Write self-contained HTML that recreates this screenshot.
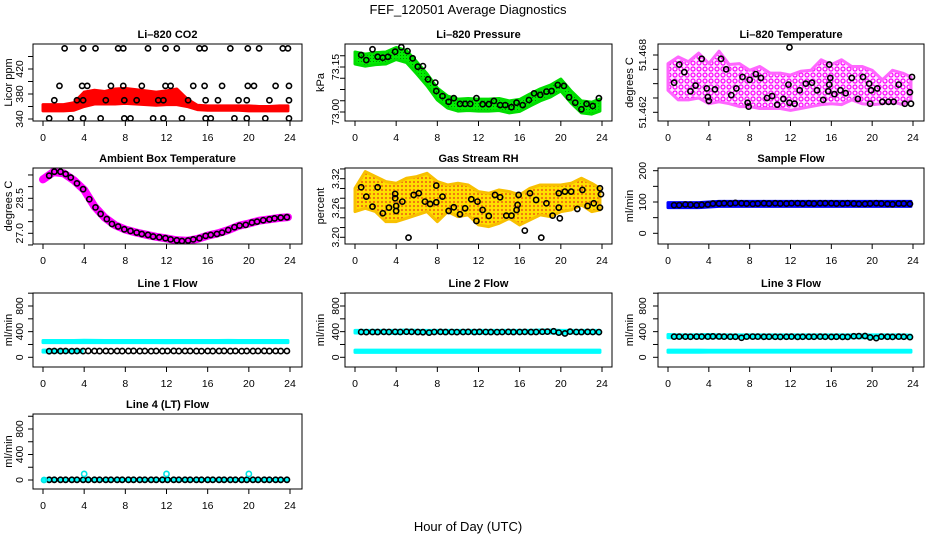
<!DOCTYPE html>
<html><head><meta charset="utf-8">
<style>
html,body{margin:0;padding:0;background:#fff;}
svg{display:block;font-family:"Liberation Sans",sans-serif;}
</style></head>
<body>
<svg id="chart" width="936" height="540" viewBox="0 0 936 540" xmlns="http://www.w3.org/2000/svg">
<defs>
<pattern id="magDots" width="6" height="6" patternUnits="userSpaceOnUse"><rect width="6" height="6" fill="#fde8fd"/><circle cx="3" cy="3" r="2" fill="none" stroke="#ff00ff" stroke-width="1.2"/></pattern>
<pattern id="rhDots" width="4" height="4" patternUnits="userSpaceOnUse"><rect width="4" height="4" fill="#ffe000"/><circle cx="2" cy="2" r="1.1" fill="#f07010"/></pattern>
<pattern id="grDots" width="3" height="3" patternUnits="userSpaceOnUse"><rect width="3" height="3" fill="#00ee00"/><rect x="1" y="1" width="1" height="1" fill="#008800"/></pattern>
</defs>
<text x="468" y="14" text-anchor="middle" font-size="13">FEF_120501  Average Diagnostics</text>
<text x="468" y="531" text-anchor="middle" font-size="13">Hour of Day (UTC)</text>
</svg>
<script>
// ---------- shared data ----------
const hourGrid = [0,1,2,3,4,5,6,7,8,9,10,11,12,13,14,15,16,17,18,19,20,21,22,23,23.8];
const xTickVals = [0,4,8,12,16,20,24];
const xTickLabels = ["0","4","8","12","16","20","24"];
const flowHours = [0.6,1.1,1.7,2.2,2.8,3.3,3.9,4.4,5.0,5.5,6.1,6.6,7.2,7.7,8.3,8.8,9.4,9.9,10.5,11.0,11.6,12.1,12.7,13.2,13.8,14.3,14.9,15.4,16.0,16.5,17.1,17.6,18.2,18.7,19.3,19.8,20.4,20.9,21.5,22.0,22.6,23.1,23.7];

// CO2
const co2BandLo = [353,353,353,354,360,364,364,364,365,364,363,362,363,363,360,355,354,354,354,354,353,353,353,353,353];
const co2BandHi = [363,363,363,366,383,386,384,388,389,387,385,383,385,388,372,362,361,361,361,361,361,360,360,361,361];
const co2Hours = [2.1,3.9,5.1,7.3,7.8,10.2,11.9,13.0,15.2,15.7,18.2,19.9,21.0,23.3,23.8,
  1.6,3.8,4.3,6.6,7.8,9.6,11.9,12.4,14.6,15.7,17.4,19.9,20.5,22.6,23.9,
  1.1,3.3,3.9,6.1,7.9,9.1,11.2,11.7,14.1,15.8,17.0,19.0,19.8,22.0,23.9,
  0.6,2.7,3.9,5.6,7.9,8.5,10.7,11.7,13.5,15.8,16.3,18.6,19.8,21.6,23.9];
const co2Vals = [453,453,453,453,453,453,453,453,453,453,453,453,453,453,453,
  393,393,393,393,393,393,393,393,393,393,393,393,393,393,393,
  370,370,370,370,370,370,370,370,370,370,370,370,370,370,370,
  341,341,341,341,341,341,341,341,341,341,341,341,341,341,341];
const co2TickVals = [340,360,380,400,420,440];
const co2TickLabels = ["340","","380","","420",""];

// Pressure
const presBandLo = [73.160,73.153,73.158,73.160,73.175,73.165,73.127,73.087,73.040,73.013,73.003,73.005,73.003,73.003,73.005,72.997,73.002,73.020,73.037,73.050,73.070,73.030,72.997,72.993,73.003];
const presBandHi = [73.200,73.193,73.198,73.200,73.215,73.205,73.167,73.127,73.080,73.053,73.043,73.045,73.043,73.043,73.045,73.037,73.042,73.060,73.077,73.090,73.110,73.070,73.037,73.033,73.043];
const presHours = [0.6,1.1,1.7,2.2,2.7,3.2,3.9,4.5,5.1,5.6,6.1,6.6,7.1,7.8,7.9,8.5,9.1,9.6,10.2,10.7,11.2,11.8,12.4,13.0,13.5,14.1,14.6,15.2,15.7,16.3,16.9,17.4,18.0,18.6,19.1,19.7,20.3,20.8,21.4,22.0,22.5,23.1,23.7];
const presVals = [73.19,73.173,73.209,73.184,73.181,73.184,73.201,73.216,73.203,73.179,73.151,73.153,73.109,73.098,73.07,73.053,73.034,73.046,73.027,73.027,73.027,73.046,73.026,73.026,73.037,73.023,73.023,73.016,73.031,73.023,73.04,73.062,73.057,73.068,73.07,73.09,73.087,73.049,73.031,73.009,73.027,73.02,73.046];
const presTickVals = [73.0,73.0375,73.075,73.1125,73.15,73.1875];
const presTickLabels = ["73.00","","","","73.15",""];

// Li-820 temperature
const tempBandLo = [51.4643,51.4633,51.4633,51.4635,51.4629,51.4631,51.4629,51.4626,51.4626,51.4624,51.4624,51.4624,51.4622,51.4624,51.4626,51.4628,51.4629,51.4628,51.4633,51.4629,51.4628,51.4629,51.4631,51.4628,51.4633];
const tempBandHi = [51.4671,51.4678,51.4673,51.4682,51.4671,51.4684,51.4670,51.4671,51.4664,51.4668,51.4661,51.4661,51.4659,51.4663,51.4664,51.4675,51.4670,51.4675,51.4668,51.4668,51.4664,51.4654,51.4664,51.4661,51.4657];
const tempHours = [0.6,1.1,1.6,2.2,2.7,3.3,3.8,3.9,4.0,4.6,5.2,5.7,6.2,6.7,7.3,7.8,7.9,8.0,8.6,9.1,9.7,10.2,10.7,11.3,11.8,11.9,11.9,12.4,12.9,13.5,14.1,14.6,15.2,15.7,15.8,15.9,15.8,16.3,16.9,17.4,18.0,18.6,19.1,19.7,19.8,19.9,20.5,21.0,21.6,22.1,22.6,23.2,23.7,23.8,23.9];
const tempVals = [51.4651,51.4670,51.4662,51.4642,51.4648,51.4676,51.4645,51.4636,51.4632,51.4644,51.4676,51.4665,51.4638,51.4645,51.4657,51.4630,51.4626,51.4654,51.4660,51.4656,51.4635,51.4637,51.4628,51.4634,51.4649,51.4630,51.4688,51.4629,51.4643,51.4650,51.4651,51.4643,51.4633,51.4642,51.4649,51.4656,51.4670,51.4639,51.4643,51.4640,51.4656,51.4634,51.4657,51.4650,51.4629,51.4643,51.4645,51.4631,51.4631,51.4631,51.4649,51.4629,51.4641,51.4629,51.4657];
const tempTickVals = [51.462,51.4635,51.465,51.4665,51.468];
const tempTickLabels = ["51.462","","","","51.468"];

// Ambient box temperature
const ambBand = [29.31,29.62,29.57,29.27,28.86,28.15,27.67,27.35,27.16,27.04,26.94,26.85,26.78,26.70,26.68,26.76,26.90,27.00,27.14,27.32,27.42,27.54,27.60,27.66,27.69];
const ambHours = [0.6,1.1,1.7,2.2,2.7,3.3,3.9,4.5,5.1,5.6,6.2,6.7,7.3,7.9,8.5,9.1,9.6,10.2,10.7,11.3,11.9,12.4,13.0,13.5,14.1,14.6,15.2,15.8,16.3,16.9,17.4,18.0,18.6,19.1,19.7,20.3,20.8,21.4,22.0,22.5,23.1,23.7];
const ambVals = [29.47,29.64,29.64,29.54,29.39,29.14,28.89,28.46,28.11,27.83,27.61,27.40,27.29,27.17,27.10,27.03,26.97,26.93,26.86,26.83,26.79,26.74,26.70,26.67,26.69,26.74,26.79,26.89,26.93,26.97,27.03,27.14,27.26,27.33,27.36,27.46,27.50,27.56,27.60,27.64,27.67,27.69];
const ambTickVals = [26.5,27.0,27.5,28.0,28.5,29.0,29.5];
const ambTickLabels = ["","27.0","","","28.5","",""];

// Gas stream RH
const rhBandHi = [3.3004,3.3346,3.3243,3.3141,3.3106,3.3209,3.3243,3.3311,3.3141,3.3072,3.3106,3.3072,3.2936,3.2902,3.2970,3.2936,3.2867,3.3004,3.3072,3.3072,3.3072,3.3106,3.3209,3.3106,3.3004];
const rhBandLo = [3.2526,3.2594,3.2526,3.2321,3.2321,3.2389,3.2458,3.2526,3.2321,3.2526,3.2423,3.2458,3.2253,3.2219,3.2287,3.2389,3.2253,3.2355,3.2458,3.2423,3.2526,3.2560,3.2663,3.2526,3.2560];
const rhHours = [0.6,1.1,1.7,2.2,2.7,3.3,3.9,3.9,4.0,4.0,4.6,5.2,5.7,6.2,6.8,7.3,7.9,7.9,8.5,9.1,9.6,10.2,10.7,11.3,11.8,11.9,12.4,13.0,13.6,14.1,14.7,15.2,15.7,15.8,15.9,16.5,17.0,17.6,18.1,18.6,19.2,19.8,19.8,19.9,20.4,21.0,21.6,22.1,22.6,23.2,23.8,23.8,23.9];
const rhVals = [3.3025,3.2833,3.2628,3.3025,3.2492,3.2608,3.2888,3.2799,3.2642,3.2540,3.2731,3.1993,3.2867,3.2902,3.2731,3.2683,3.3059,3.2717,3.2833,3.2540,3.2615,3.2471,3.2594,3.2779,3.2335,3.2731,3.2560,3.2437,3.2867,3.2820,3.2444,3.2444,3.2560,3.2663,3.2867,3.2137,3.2902,3.2765,3.1993,3.2697,3.2444,3.2902,3.2608,3.2389,3.2936,3.2936,3.2581,3.2970,3.2642,3.2697,3.3004,3.2608,3.2881];
const rhTickVals = [3.20,3.22,3.24,3.26,3.28,3.30,3.32,3.34];
const rhTickLabels = ["3.20","","","3.26","","","3.32",""];

// Sample flow
const sampleBandLo = [82,82,82,82,84,86,86,86,86,86,86,86,86,86,86,86,86,86,86,86,86,86,86,86,86];
const sampleBandHi = [98,98,98,98,100,102,102,102,102,102,102,102,102,102,102,102,102,102,102,102,102,102,102,102,102];
const sampleVals = [90,90,92,91,90,91,92,95,95,96,95,97,96,95,94,95,96,95,96,95,95,96,96,95,96,95,96,96,96,95,95,96,95,94,94,95,96,95,94,93,95,95,94];
const sampleTickVals = [0,50,100,150,200];
const sampleTickLabels = ["0","","100","","200"];

// Line flows
const flowTickVals = [0,200,400,600,800,1000];
const flowTickLabels = ["0","","400","","800",""];
const line1HiLo = [228,228,228,228,228,228,228,228,228,228,228,228,226,228,228,228,228,228,228,228,228,228,228,228,228];
const line1HiHi = [262,262,262,262,266,264,262,262,262,262,262,262,262,262,262,262,262,262,264,262,262,262,262,262,262];
const line1LowHours = [0,1,2,3,3.8];
const line1LowLo = [80,80,80,80,80];
const line1LowHi = [112,112,112,112,112];
const line1Vals = [95,98,97,98,96,98,97,99,98,97,98,96,98,97,98,99,97,98,96,98,97,98,99,97,98,98,97,96,98,97,98,99,97,98,96,98,97,98,99,97,98,97,98];
const line2HiLo = [378,378,378,378,370,378,378,378,378,378,378,378,372,378,378,378,378,378,378,378,372,378,378,378,378];
const line2HiHi = [420,420,420,420,420,425,420,420,420,420,420,420,420,420,420,420,420,420,425,425,420,420,420,420,420];
const line2LoLo = [76,76,76,76,76,76,76,76,76,76,76,76,76,76,76,76,76,76,76,76,76,76,76,76,76];
const line2LoHi = [112,112,112,112,112,112,112,112,112,112,112,112,112,112,112,112,112,112,112,112,112,112,112,112,112];
const line2Vals = [395,393,395,394,396,395,397,395,398,396,394,392,385,395,396,394,395,393,395,396,394,396,395,394,393,395,396,394,395,396,394,395,398,400,405,385,372,400,395,394,396,395,393];
const line3HiLo = [305,305,305,305,305,305,305,305,305,305,305,305,300,305,305,305,305,305,305,305,300,305,305,305,305];
const line3HiHi = [355,350,350,352,355,350,350,350,350,350,350,350,350,350,350,350,350,350,350,350,350,350,350,350,345];
const line3LoLo = [78,78,78,78,80,80,80,80,80,80,80,80,80,80,80,80,80,80,80,80,80,80,80,80,80];
const line3LoHi = [112,112,112,112,110,110,110,110,110,110,110,110,110,110,110,110,110,110,110,110,110,110,110,110,110];
const line3Vals = [322,322,322,321,323,322,322,325,324,322,321,320,305,322,323,322,320,321,320,319,320,322,318,320,320,321,322,320,318,320,319,318,328,330,332,310,300,322,320,318,322,320,315];
const line4BandLo = [-8,-8,-8,-8,-8,-8,-8,-8,-8,-8,-8,-8,-8,-8,-8,-8,-8,-8,-8,-8,-8,-8,-8,-8,-8];
const line4BandHi = [10,10,10,10,10,10,10,10,10,10,10,10,10,10,10,10,10,10,10,10,10,10,10,10,10];
const line4Vals = [3,3,3,3,3,3,3,3,3,3,3,3,3,3,3,3,3,3,3,3,3,3,3,3,3,3,3,3,3,3,3,3,3,3,3,3,3,3,3,3,3,3,3];
const line4CyanHours = [0.1,4.0,12.0,20.0];
const line4CyanVals = [0,95,95,95];

// ---------- drawing ----------
const NS = "http://www.w3.org/2000/svg";
const svg = document.getElementById("chart");
function mk(tag, attrs, parent) {
  const e = document.createElementNS(NS, tag);
  for (const k in attrs) e.setAttribute(k, attrs[k]);
  (parent || svg).appendChild(e);
  return e;
}

const COLS = [
  {bx0:33, bx1:302, x0:43, x24:290, tickLab:19, title:8},
  {bx0:345, bx1:612, x0:355, x24:602, tickLab:335, title:320},
  {bx0:658, bx1:924, x0:668, x24:913, tickLab:642, title:629}
];
const ROWS = [{y0:44,y1:121},{y0:168,y1:244},{y0:293,y1:367},{y0:414,y1:489}];

function makePanel(name, col, row, title, ytitle, v0, p0, v1, p1, tickVals, tickLabels) {
  const c = COLS[col], r = ROWS[row];
  const g = mk("g", {});
  
  
  const xs = h => c.x0 + (h / 24) * (c.x24 - c.x0);
  const ys = v => p0 + (v - v0) * (p1 - p0) / (v1 - v0);
  const clip = mk("clipPath", {id: "clip-" + name}, g);
  mk("rect", {x: c.bx0, y: r.y0, width: c.bx1 - c.bx0, height: r.y1 - r.y0}, clip);
  const plot = mk("g", {"clip-path": "url(#clip-" + name + ")"}, g);
  
  
  const t = mk("text", {x: (c.bx0 + c.bx1) / 2, y: r.y0 - 6, "text-anchor": "middle", "font-size": "11", "font-weight": "bold"}, g);
  t.textContent = title;
  
  
  const box = mk("rect", {x: c.bx0, y: r.y0, width: c.bx1 - c.bx0, height: r.y1 - r.y0, fill: "none", stroke: "#000", "stroke-width": "1"}, g);
  
  
  const xa = mk("g", {}, g);
  
  
  xTickVals.forEach((h, i) => {
    mk("line", {x1: xs(h), x2: xs(h), y1: r.y1, y2: r.y1 + 5, stroke: "#000"}, xa);
    const tl = mk("text", {x: xs(h), y: r.y1 + 20, "text-anchor": "middle", "font-size": "10.5"}, xa);
    tl.textContent = xTickLabels[i];
  });
  const ya = mk("g", {}, g);
  
  
  tickVals.forEach((v, i) => {
    const y = ys(v);
    if (y < r.y0 - 14 || y > r.y1 + 14) return;
    mk("line", {x1: c.bx0 - 5, x2: c.bx0, y1: y, y2: y, stroke: "#000"}, ya);
    if (tickLabels[i]) {
      const tl = mk("text", {x: 0, y: 0, "text-anchor": "middle", "font-size": "10.5", transform: "translate(" + (c.tickLab + 4) + "," + y + ") rotate(-90)"}, ya);
      tl.textContent = tickLabels[i];
    }
  });
  const yt = mk("text", {x: 0, y: 0, "text-anchor": "middle", "font-size": "11", transform: "translate(" + (c.title + 4) + "," + ((r.y0 + r.y1) / 2) + ") rotate(-90)"}, g);
  yt.textContent = ytitle;
  
  
  return {plot, xs, ys};
}

function band(p, name, hours, lo, hi, fill, stroke) {
  const n = Math.min(hours.length, lo.length, hi.length);
  let pts = [];
  for (let i = 0; i < n; i++) pts.push(p.xs(hours[i]) + "," + p.ys(hi[i]));
  for (let i = n - 1; i >= 0; i--) pts.push(p.xs(hours[i]) + "," + p.ys(lo[i]));
  const e = mk("polygon", {points: pts.join(" "), fill: fill, stroke: stroke, "stroke-width": "3", "stroke-linejoin": "round"}, p.plot);
  
  
}
function thickLine(p, name, hours, vals, color, w) {
  const n = Math.min(hours.length, vals.length);
  let pts = [];
  for (let i = 0; i < n; i++) pts.push(p.xs(hours[i]) + "," + p.ys(vals[i]));
  const e = mk("polyline", {points: pts.join(" "), fill: "none", stroke: color, "stroke-width": w, "stroke-linecap": "round", "stroke-linejoin": "round"}, p.plot);
  
  
}
function circles(p, name, hours, vals, color) {
  const g = mk("g", {}, p.plot);
  
  
  const n = Math.min(hours.length, vals.length);
  for (let i = 0; i < n; i++) {
    const c = mk("circle", {cx: p.xs(hours[i]), cy: p.ys(vals[i]), r: 2.6, fill: "none", stroke: color, "stroke-width": "1.6"}, g);
    
    
  }
}

let p = makePanel("co2", 0, 0, "Li\u2013820 CO2", "Licor ppm", 340, 119, 420, 69, co2TickVals, co2TickLabels);
band(p, "co2-band", hourGrid, co2BandLo, co2BandHi, "#ff0000", "#ff0000");
circles(p, "co2-points", co2Hours, co2Vals, "#000");

p = makePanel("pressure", 1, 0, "Li\u2013820 Pressure", "kPa", 73.0, 112, 73.15, 67, presTickVals, presTickLabels);
band(p, "pressure-band", hourGrid, presBandLo, presBandHi, "url(#grDots)", "#00dd00");
circles(p, "pressure-points", presHours, presVals, "#000");

p = makePanel("li820-temp", 2, 0, "Li\u2013820 Temperature", "degrees C", 51.462, 112.3, 51.468, 55, tempTickVals, tempTickLabels);
band(p, "li820-temp-band", hourGrid, tempBandLo, tempBandHi, "url(#magDots)", "#ff66ff");
circles(p, "li820-temp-points", tempHours, tempVals, "#000");

p = makePanel("ambient-temp", 0, 1, "Ambient Box Temperature", "degrees C", 27.0, 233.3, 28.5, 198.3, ambTickVals, ambTickLabels);
thickLine(p, "ambient-temp-band", hourGrid, ambBand, "#ff00ff", 8);
circles(p, "ambient-temp-points", ambHours, ambVals, "#000");

p = makePanel("gas-rh", 1, 1, "Gas Stream RH", "percent", 3.20, 237.3, 3.32, 178.7, rhTickVals, rhTickLabels);
band(p, "gas-rh-band", hourGrid, rhBandLo, rhBandHi, "url(#rhDots)", "#f8c000");
circles(p, "gas-rh-points", rhHours, rhVals, "#000");

p = makePanel("sample-flow", 2, 1, "Sample Flow", "ml/min", 0, 233.3, 200, 170.7, sampleTickVals, sampleTickLabels);
band(p, "sample-flow-band", hourGrid, sampleBandLo, sampleBandHi, "#0000ff", "#0000ff");
circles(p, "sample-flow-points", flowHours, sampleVals, "#000");

p = makePanel("line1-flow", 0, 2, "Line 1 Flow", "ml/min", 0, 357.3, 800, 306, flowTickVals, flowTickLabels);
band(p, "line1-upper-band", hourGrid, line1HiLo, line1HiHi, "#00ffff", "#00ffff");
band(p, "line1-lower-band", line1LowHours, line1LowLo, line1LowHi, "#00ffff", "#00ffff");
circles(p, "line1-points", flowHours, line1Vals, "#000");

p = makePanel("line2-flow", 1, 2, "Line 2 Flow", "ml/min", 0, 357.3, 800, 306, flowTickVals, flowTickLabels);
band(p, "line2-upper-band", hourGrid, line2HiLo, line2HiHi, "#00ffff", "#00ffff");
band(p, "line2-lower-band", hourGrid, line2LoLo, line2LoHi, "#00ffff", "#00ffff");
circles(p, "line2-points", flowHours, line2Vals, "#000");

p = makePanel("line3-flow", 2, 2, "Line 3 Flow", "ml/min", 0, 357.3, 800, 306, flowTickVals, flowTickLabels);
band(p, "line3-upper-band", hourGrid, line3HiLo, line3HiHi, "#00ffff", "#00ffff");
band(p, "line3-lower-band", hourGrid, line3LoLo, line3LoHi, "#00ffff", "#00ffff");
circles(p, "line3-points", flowHours, line3Vals, "#000");

p = makePanel("line4-flow", 0, 3, "Line 4 (LT) Flow", "ml/min", 0, 480, 800, 429, flowTickVals, flowTickLabels);
band(p, "line4-band", hourGrid, line4BandLo, line4BandHi, "#00ffff", "#00ffff");
circles(p, "line4-points", flowHours, line4Vals, "#000");
circles(p, "line4-cyan-points", line4CyanHours, line4CyanVals, "#00e5e5");
</script>
</body></html>
